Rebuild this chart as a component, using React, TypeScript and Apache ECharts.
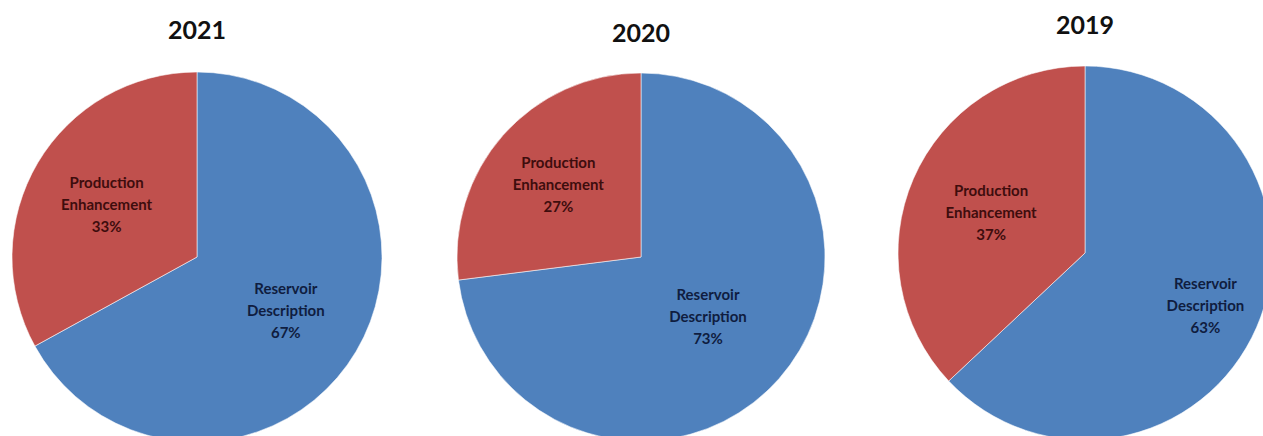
import React, { useEffect, useRef } from "react";
import * as echarts from "echarts";

const years = ["2021", "2020", "2019"];
const categories = ["Reservoir\nDescription", "Production\nEnhancement"];
const reservoirDescription = [67, 73, 63];
const productionEnhancement = [33, 27, 37];

// layout (pixels)
const centers: [number, number][] = [
  [197, 257],
  [641, 257],
  [1085, 253],
];
const radii = [185, 184, 187];
const titleY = [29, 32, 24];
// radial factor applied to the default "inside" label position, per slice
const labelFactor = [
  [1.08, 1.1],
  [0.94, 1.16],
  [1.36, 1.06],
];
const colors = ["#4f81bd", "#c0504d"];
const labelColors = ["#0f1d40", "#3e0d0d"];

export default function App() {
  const ref = useRef<HTMLDivElement>(null);
  useEffect(() => {
    if (!ref.current) return;
    const chart = echarts.init(ref.current, undefined, { renderer: "svg" });
    const series = years.map((y, i) => {
      const [cx, cy] = centers[i];
      return {
        type: "pie",
        center: [cx, cy],
        radius: radii[i],
        startAngle: 90,
        clockwise: true,
        silent: true,
        itemStyle: { borderColor: "rgba(255,255,255,0.55)", borderWidth: 1 },
        label: {
          show: true,
          position: "inside",
          formatter: (p: any) => `${p.name}\n${p.value}%`,
          fontFamily: "Lato",
          fontWeight: "bold",
          fontSize: 15,
          lineHeight: 22,
          align: "center",
        },
        labelLayout: (params: any) => {
          const r = params.labelRect;
          const lx = r.x + r.width / 2;
          const ly = r.y + r.height / 2;
          const f = labelFactor[i][params.dataIndex];
          return { dx: (lx - cx) * (f - 1), dy: (ly - cy) * (f - 1) };
        },
        data: [
          {
            name: categories[0],
            value: reservoirDescription[i],
            itemStyle: { color: colors[0] },
            label: { color: labelColors[0] },
          },
          {
            name: categories[1],
            value: productionEnhancement[i],
            itemStyle: { color: colors[1] },
            label: { color: labelColors[1] },
          },
        ],
      };
    });
    chart.setOption({
      animation: false,
      backgroundColor: "#ffffff",
      title: years.map((y, i) => ({
        text: y,
        left: centers[i][0],
        top: titleY[i] - 12,
        textAlign: "center",
        padding: 0,
        textStyle: {
          fontFamily: "Lato",
          fontWeight: "bold",
          fontSize: 25,
          lineHeight: 24,
          color: "#111111",
        },
      })),
      series,
    });
    return () => chart.dispose();
  }, []);
  return (
    <div
      ref={ref}
      style={{ position: "absolute", left: 0, top: 0, width: 1263, height: 436 }}
    />
  );
}
